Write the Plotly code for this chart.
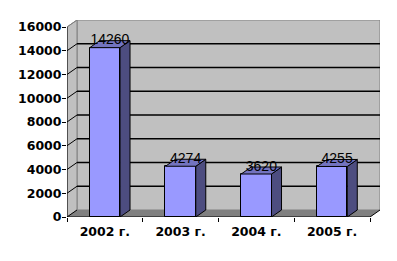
import plotly.graph_objects as go

# ---- data ----
categories = ["2002 г.", "2003 г.", "2004 г.", "2005 г."]
values = [14260, 4274, 3620, 4255]
y_ticks = [0, 2000, 4000, 6000, 8000, 10000, 12000, 14000, 16000]

# ---- style / geometry ----
W, H = 397, 261
ML, MR, MT, MB = 67, 17, 20, 44
YMAX = 16000
DX = 0.132          # depth offset in x units
DY = YMAX * 7 / 190  # depth offset in y units (~7px)
BW = 0.4
FRONT = "#9999FF"
SIDE = "#4D4D80"
TOP = "#7373BF"
WALL = "#C0C0C0"
FLOOR = "#808080"
TICKFONT = dict(family="DejaVu Sans", size=12.5, color="black", weight="bold")

xs = list(range(len(categories)))
x0, x1 = -0.5, len(categories) - 0.5

fig = go.Figure()

shapes = []
# back wall
shapes.append(dict(type="rect", xref="x", yref="y", layer="below",
                   x0=x0 + DX, x1=x1 + DX, y0=DY, y1=YMAX + DY,
                   fillcolor=WALL, line=dict(color="#808080", width=1)))
# side wall
shapes.append(dict(type="path", xref="x", yref="y", layer="below",
                   path=f"M {x0},0 L {x0},{YMAX} L {x0+DX},{YMAX+DY} L {x0+DX},{DY} Z",
                   fillcolor=WALL, line=dict(color="#808080", width=1)))
# floor
shapes.append(dict(type="path", xref="x", yref="y", layer="below",
                   path=f"M {x0},0 L {x1},0 L {x1+DX},{DY} L {x0+DX},{DY} Z",
                   fillcolor=FLOOR, line=dict(width=0)))
# gridlines (side diagonal + back horizontal)
for v in y_ticks[1:-1]:
    shapes.append(dict(type="line", xref="x", yref="y", layer="below",
                       x0=x0, y0=v, x1=x0 + DX, y1=v + DY,
                       line=dict(color="black", width=1)))
    shapes.append(dict(type="line", xref="x", yref="y", layer="below",
                       x0=x0 + DX, y0=v + DY, x1=x1 + DX, y1=v + DY,
                       line=dict(color="black", width=1.4)))
# side diagonals at 0 and 16000
for v in (0, YMAX):
    shapes.append(dict(type="line", xref="x", yref="y", layer="below",
                       x0=x0, y0=v, x1=x0 + DX, y1=v + DY,
                       line=dict(color="black" if v == 0 else "#808080", width=1)))
# front value axis line
shapes.append(dict(type="line", xref="x", yref="y", layer="above",
                   x0=x0, y0=0, x1=x0, y1=YMAX, line=dict(color="black", width=1)))
# front category axis line + right floor edge
shapes.append(dict(type="line", xref="x", yref="y", layer="above",
                   x0=x0, y0=0, x1=x1, y1=0, line=dict(color="black", width=1)))
shapes.append(dict(type="line", xref="x", yref="y", layer="below",
                   x0=x1, y0=0, x1=x1 + DX, y1=DY, line=dict(color="black", width=1)))

# bar front faces
fig.add_trace(go.Bar(x=xs, y=values, width=BW,
                     marker=dict(color=FRONT, line=dict(color="black", width=1)),
                     showlegend=False, hoverinfo="skip"))

# side and top faces
for x, v in zip(xs, values):
    r = x + BW / 2
    l = x - BW / 2
    fig.add_trace(go.Scatter(
        x=[r, r, r + DX, r + DX, r], y=[0, v, v + DY, DY, 0],
        fill="toself", fillcolor=SIDE, mode="lines",
        line=dict(color="black", width=1), showlegend=False, hoverinfo="skip"))
    fig.add_trace(go.Scatter(
        x=[l, r, r + DX, l + DX, l], y=[v, v, v + DY, v + DY, v],
        fill="toself", fillcolor=TOP, mode="lines",
        line=dict(color="black", width=1), showlegend=False, hoverinfo="skip"))

# data labels
fig.add_trace(go.Scatter(
    x=[x + DX / 2 for x in xs], y=[v + DY for v in values],
    text=[str(v) for v in values], mode="text", textposition="middle center",
    textfont=dict(family="Liberation Sans", size=14, color="black"),
    cliponaxis=False, showlegend=False, hoverinfo="skip"))

fig.update_layout(
    width=W, height=H,
    margin=dict(l=ML, r=MR, t=MT, b=MB, pad=0),
    paper_bgcolor="white", plot_bgcolor="rgba(0,0,0,0)",
    shapes=shapes,
    font=dict(family="DejaVu Sans", size=13, color="black"),
    xaxis=dict(range=[x0, x1 + DX], tickvals=xs, ticktext=categories,
               showgrid=False, zeroline=False, showline=False, ticks="",
               tickfont=TICKFONT, ticklabelstandoff=5,
               minor=dict(tickvals=[x0 + i for i in range(len(categories) + 1)],
                          ticks="outside", ticklen=4, tickcolor="black",
                          showgrid=False),
               fixedrange=True),
    yaxis=dict(range=[0, YMAX + DY], tickvals=y_ticks,
               ticktext=[str(t) for t in y_ticks],
               showgrid=False, zeroline=False, showline=False,
               ticks="outside", ticklen=4, tickcolor="black",
               tickfont=TICKFONT, ticklabelstandoff=-2,
               fixedrange=True),
    bargap=0,
)

fig.write_html("out.html")
